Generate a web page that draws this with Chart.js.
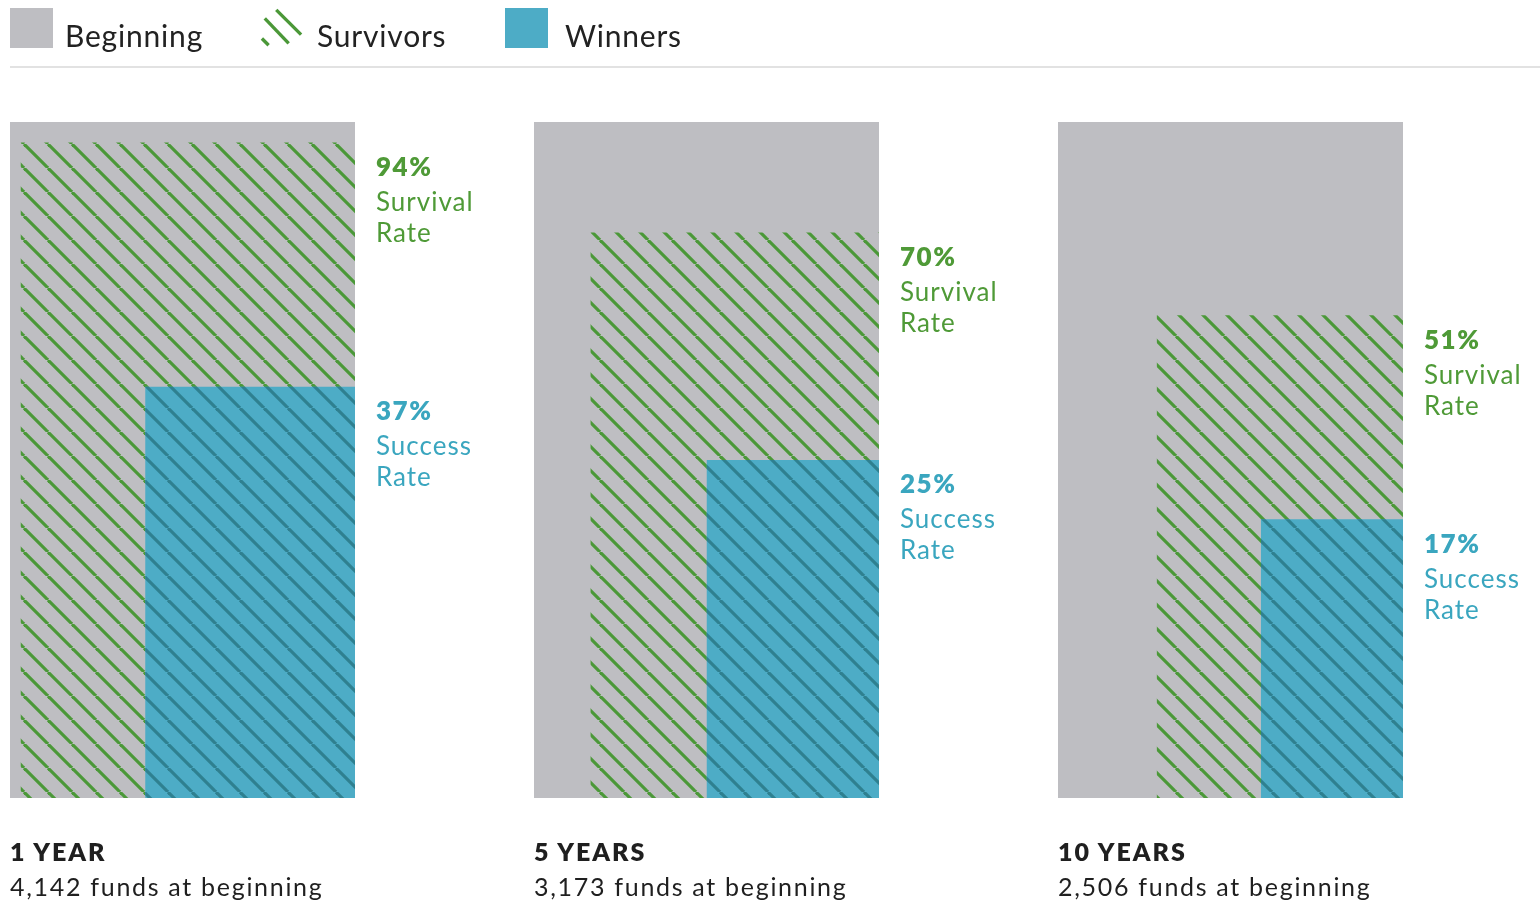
<!DOCTYPE html>
<html>
<head>
<meta charset="utf-8">
<script src="https://cdn.jsdelivr.net/npm/chart.js@4"></script>
<style>
  html, body { margin: 0; padding: 0; background: #fff; }
  body { width: 1540px; height: 906px; position: relative; overflow: hidden; font-family: Lato, "Open Sans", sans-serif; }
  #chart { position: absolute; left: 0; top: 0; }
  .legend-item { position: absolute; top: 0; height: 60px; }
  .legend-item .swatch { position: absolute; left: 0; top: 8px; width: 43px; height: 40px; }
  .legend-item .label { position: absolute; top: 17px; font-size: 30px; line-height: 36px; letter-spacing: 0.8px; color: #222; white-space: nowrap; }
  .rule { position: absolute; left: 10px; right: 0; top: 66px; height: 0; border-top: 2px solid #e2e2e2; }
  .caption { position: absolute; top: 834px; color: #1f1f1f; white-space: nowrap; }
  .caption .title { font-weight: 800; font-size: 25px; line-height: 34px; letter-spacing: 2px; }
  .caption .sub { font-size: 25px; line-height: 37px; letter-spacing: 1.7px; }
</style>
</head>
<body>
<canvas id="chart" width="1540" height="906"></canvas>
<div id="legend"></div>
<div class="rule"></div>
<div id="captions"></div>
<script>
// Fund survival and success rates by holding period
const periods = ['1 YEAR', '5 YEARS', '10 YEARS'];
const fundsAtBeginning = [4142, 3173, 2506];
const survivalRate = [94, 70, 51];
const successRate = [37, 25, 17];
const legendLabels = ['Beginning', 'Survivors', 'Winners'];

const GRAY = '#bebec2';
const BLUE = '#4dacc6';
const GREEN_LINE = '#4b9838';
const TEAL_LINE = '#2f8090';
const GREEN_TEXT = '#4f9a37';
const BLUE_TEXT = '#3aa6bf';

// Each panel is one unit wide on the x scale; panels repeat every PANEL_STEP units.
const PANEL_STEP = 524 / 345;
const X_MAX = 1530 / 345;

function hatchPattern(color, lineWidth) {
  const size = 24;
  const c = document.createElement('canvas');
  c.width = size; c.height = size;
  const g = c.getContext('2d');
  g.strokeStyle = color;
  g.lineWidth = lineWidth;
  for (const o of [-size, 0, size]) {
    g.beginPath();
    g.moveTo(o, 0);
    g.lineTo(o + size, size);
    g.stroke();
  }
  return g.createPattern(c, 'repeat');
}

// A block anchored at the bottom-right corner of a panel whose sides
// scale with sqrt(share), so its area reflects the rate.
function block(panel, share) {
  const s = Math.sqrt(share);
  const x1 = panel * PANEL_STEP + 1;
  const x0 = x1 - s;
  return [{x: x0, y: 0}, {x: x0, y: s}, {x: x1, y: s}, {x: x1, y: 0}];
}

function area(data, fill, order) {
  return {
    data, order,
    showLine: true,
    fill: 'origin',
    backgroundColor: fill,
    borderWidth: 0,
    borderColor: 'rgba(0,0,0,0)',
    pointRadius: 0,
    pointHoverRadius: 0,
    tension: 0
  };
}

const greenHatch = hatchPattern(GREEN_LINE, 3.2);
const tealHatch = hatchPattern(TEAL_LINE, 3.2);

const datasets = [];
periods.forEach((p, i) => {
  datasets.push(area(block(i, 1), GRAY, 4));
  datasets.push(area(block(i, survivalRate[i] / 100), greenHatch, 3));
  datasets.push(area(block(i, successRate[i] / 100), BLUE, 2));
  datasets.push(area(block(i, successRate[i] / 100), tealHatch, 1));
});

// Rate annotations to the right of each panel
const rateLabels = {
  id: 'rateLabels',
  afterDatasetsDraw(chart) {
    const {ctx, scales: {x, y}} = chart;
    ctx.save();
    ctx.textBaseline = 'top';
    ctx.textAlign = 'left';
    const draw = (i, rate, word, color) => {
      const left = x.getPixelForValue(i * PANEL_STEP + 1) + 21;
      const top = y.getPixelForValue(Math.sqrt(rate / 100)) + 12;
      ctx.fillStyle = color;
      ctx.font = '800 26px Lato';
      ctx.letterSpacing = '1.5px';
      ctx.fillText(rate + '%', left, top);
      ctx.font = '400 26px Lato';
      ctx.letterSpacing = '1px';
      ctx.fillText(word, left, top + 35);
      ctx.fillText('Rate', left, top + 66);
    };
    periods.forEach((p, i) => {
      draw(i, survivalRate[i], 'Survival', GREEN_TEXT);
      draw(i, successRate[i], 'Success', BLUE_TEXT);
    });
    ctx.restore();
  }
};

const chart = new Chart(document.getElementById('chart'), {
  type: 'scatter',
  data: { datasets },
  options: {
    responsive: false,
    animation: false,
    devicePixelRatio: 1,
    layout: { padding: { left: 10, right: 0, top: 122, bottom: 108 } },
    scales: {
      x: { type: 'linear', min: 0, max: X_MAX, display: false },
      y: { type: 'linear', min: 0, max: 1, display: false }
    },
    plugins: {
      legend: { display: false },
      tooltip: { enabled: false }
    }
  },
  plugins: [rateLabels]
});

// Legend
const legend = document.getElementById('legend');
const swatches = [
  `<div class="swatch" style="background:${GRAY}"></div>`,
  `<svg class="swatch" viewBox="0 0 45 40" width="45" height="40">
     <g stroke="${GREEN_LINE}" stroke-width="3.5">
       <line x1="2" y1="31" x2="9" y2="38"/>
       <line x1="5" y1="10" x2="30" y2="36"/>
       <line x1="17" y1="1" x2="43" y2="27"/>
     </g>
   </svg>`,
  `<div class="swatch" style="background:${BLUE}"></div>`
];
const legendItemLeft = [10, 260, 505];
const legendTextOffset = [55, 57, 60];
legendLabels.forEach((t, i) => {
  const item = document.createElement('div');
  item.className = 'legend-item';
  item.style.left = legendItemLeft[i] + 'px';
  item.innerHTML = swatches[i] + `<span class="label" style="left:${legendTextOffset[i]}px">${t}</span>`;
  legend.appendChild(item);
});

// Captions under each panel, aligned with the panel's left edge
const captions = document.getElementById('captions');
periods.forEach((p, i) => {
  const left = chart.scales.x.getPixelForValue(i * PANEL_STEP);
  const d = document.createElement('div');
  d.className = 'caption';
  d.style.left = left + 'px';
  d.innerHTML = `<div class="title">${p}</div><div class="sub">${fundsAtBeginning[i].toLocaleString('en-US')} funds at beginning</div>`;
  captions.appendChild(d);
});
</script>
</body>
</html>
